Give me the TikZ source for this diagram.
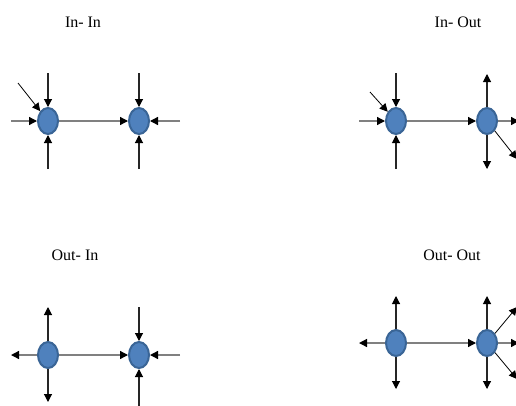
\documentclass[tikz,border=0pt]{standalone}
\usepackage{fontspec}
\setmainfont{Liberation Serif}
\usetikzlibrary{arrows.meta,shapes.geometric}
\definecolor{nodefill}{HTML}{4F81BD}
\definecolor{nodeedge}{HTML}{3A6596}
\tikzset{
  dot/.style={ellipse, draw=nodeedge, fill=nodefill, line width=2pt, minimum width=20pt, minimum height=26pt, inner sep=0pt},
  title/.style={font=\fontsize{16}{19}\selectfont},
  arr/.style={-{Triangle[length=8pt,width=8pt,color=black]}, line width=1.1pt, black!85},
  harr/.style={-{Triangle[length=8pt,width=8pt,color=black]}, line width=1.3pt, black!50},
  darr/.style={-{Triangle[length=8pt,width=8pt,color=black]}, line width=0.8pt, black},
}
\begin{document}
\begin{tikzpicture}[x=1pt,y=-1pt]
\useasboundingbox (0,0) rectangle (516,405);
\clip (0,0) rectangle (516,405);
% titles
\node[title] (t1) at (83,22) {In- In};
\node[title] (t2) at (458,22) {In- Out};
\node[title] (t3) at (75,255) {Out- In};
\node[title] (t4) at (452,255) {Out- Out};
% panel 1: In-In
\node[dot] (A1) at (48,121) {};
\node[dot] (B1) at (139,121) {};
\coordinate (a1n) at (48,73);
\coordinate (a1s) at (48,169);
\coordinate (a1w) at (11,121);
\coordinate (a1d) at (18,83);
\coordinate (b1n) at (139,73);
\coordinate (b1s) at (139,169);
\coordinate (b1e) at (180,121);
\draw[arr] (a1n) -- (A1);
\draw[arr] (a1s) -- (A1);
\draw[harr] (a1w) -- (A1);
\draw[darr] (a1d) -- (A1);
\draw[harr] (A1) -- (B1);
\draw[arr] (b1n) -- (B1);
\draw[arr] (b1s) -- (B1);
\draw[harr] (b1e) -- (B1);
% panel 2: In-Out
\node[dot] (A2) at (396,121) {};
\node[dot] (B2) at (487,121) {};
\coordinate (a2n) at (396,73);
\coordinate (a2s) at (396,169);
\coordinate (a2w) at (359,121);
\coordinate (a2d) at (370,92);
\coordinate (b2n) at (487,74);
\coordinate (b2s) at (487,169);
\coordinate (b2e) at (519,121);
\coordinate (b2d) at (517,159);
\draw[arr] (a2n) -- (A2);
\draw[arr] (a2s) -- (A2);
\draw[harr] (a2w) -- (A2);
\draw[darr] (a2d) -- (A2);
\draw[harr] (A2) -- (B2);
\draw[arr] (B2) -- (b2n);
\draw[arr] (B2) -- (b2s);
\draw[harr] (B2) -- (b2e);
\draw[darr] (B2) -- (b2d);
% panel 3: Out-In
\node[dot] (A3) at (48,355) {};
\node[dot] (B3) at (139,355) {};
\coordinate (a3n) at (48,307);
\coordinate (a3s) at (48,402);
\coordinate (a3w) at (11,355);
\coordinate (b3n) at (139,307);
\coordinate (b3s) at (139,406);
\coordinate (b3e) at (180,355);
\draw[arr] (A3) -- (a3n);
\draw[arr] (A3) -- (a3s);
\draw[harr] (A3) -- (a3w);
\draw[harr] (A3) -- (B3);
\draw[arr] (b3n) -- (B3);
\draw[arr] (b3s) -- (B3);
\draw[harr] (b3e) -- (B3);
% panel 4: Out-Out
\node[dot] (A4) at (396,343) {};
\node[dot] (B4) at (487,343) {};
\coordinate (a4n) at (396,296);
\coordinate (a4s) at (396,389);
\coordinate (a4w) at (359,343);
\coordinate (b4n) at (487,296);
\coordinate (b4s) at (487,389);
\coordinate (b4e) at (519,343);
\coordinate (b4u) at (517,307);
\coordinate (b4d) at (517,379);
\draw[arr] (A4) -- (a4n);
\draw[arr] (A4) -- (a4s);
\draw[harr] (A4) -- (a4w);
\draw[harr] (A4) -- (B4);
\draw[arr] (B4) -- (b4n);
\draw[arr] (B4) -- (b4s);
\draw[harr] (B4) -- (b4e);
\draw[darr] (B4) -- (b4u);
\draw[darr] (B4) -- (b4d);
\end{tikzpicture}
\end{document}
